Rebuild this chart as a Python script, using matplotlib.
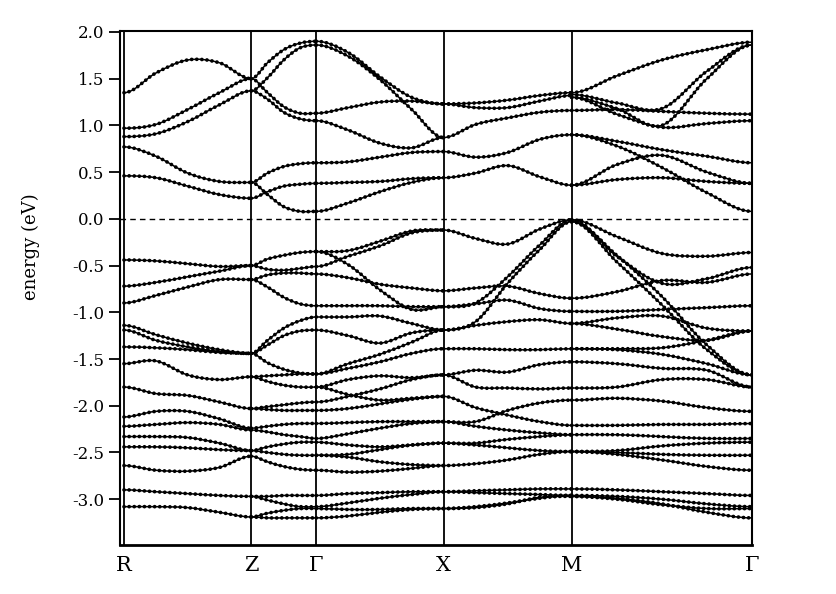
import matplotlib
matplotlib.use("Agg")
import matplotlib.pyplot as plt
from matplotlib.path import Path
from matplotlib.patches import PathPatch

# ---------------- data ----------------
k_labels = ["R", "Z", "Γ", "X", "M", "Γ"]
k_ticks = [0, 127, 192, 319, 447, 627]

# energies (eV) at 0, 1/4, 1/2, 3/4, 1 of each path segment
rz_cb = [
    [1.35, 1.56, 1.70, 1.67, 1.50],
    [0.97, 1.01, 1.17, 1.35, 1.50],
    [0.88, 0.91, 1.04, 1.22, 1.37],
    [0.77, 0.67, 0.49, 0.40, 0.39],
    [0.46, 0.44, 0.35, 0.26, 0.22],
]
rz_vb = [
    [-0.44, -0.45, -0.48, -0.51, -0.50],
    [-0.72, -0.68, -0.62, -0.56, -0.50],
    [-0.90, -0.82, -0.73, -0.65, -0.65],
    [-1.14, -1.24, -1.33, -1.40, -1.44],
    [-1.19, -1.30, -1.37, -1.42, -1.44],
    [-1.37, -1.38, -1.40, -1.43, -1.44],
    [-1.55, -1.52, -1.67, -1.72, -1.69],
    [-1.80, -1.87, -1.89, -1.96, -2.03],
    [-2.12, -2.06, -2.06, -2.14, -2.24],
    [-2.22, -2.20, -2.18, -2.20, -2.26],
    [-2.33, -2.33, -2.34, -2.40, -2.48],
    [-2.44, -2.44, -2.45, -2.47, -2.48],
    [-2.64, -2.69, -2.70, -2.66, -2.54],
    [-2.90, -2.92, -2.94, -2.96, -2.97],
    [-3.08, -3.08, -3.09, -3.14, -3.19],
]
zg_cb = [
    [1.50, 1.67, 1.81, 1.88, 1.90],
    [1.37, 1.51, 1.70, 1.83, 1.86],
    [1.50, 1.35, 1.20, 1.13, 1.13],
    [1.37, 1.28, 1.14, 1.07, 1.05],
    [0.39, 0.49, 0.56, 0.59, 0.60],
    [0.22, 0.29, 0.35, 0.37, 0.38],
    [0.39, 0.26, 0.13, 0.08, 0.08],
]
zg_vb = [
    [-0.50, -0.43, -0.39, -0.36, -0.35],
    [-0.50, -0.54, -0.55, -0.53, -0.51],
    [-0.65, -0.60, -0.58, -0.58, -0.59],
    [-0.65, -0.73, -0.84, -0.91, -0.93],
    [-1.44, -1.30, -1.17, -1.09, -1.05],
    [-1.44, -1.35, -1.25, -1.20, -1.19],
    [-1.44, -1.54, -1.61, -1.65, -1.66],
    [-1.69, -1.68, -1.67, -1.66, -1.66],
    [-1.69, -1.74, -1.78, -1.80, -1.80],
    [-2.03, -2.01, -1.99, -1.97, -1.96],
    [-2.03, -2.04, -2.05, -2.05, -2.05],
    [-2.24, -2.22, -2.20, -2.19, -2.19],
    [-2.26, -2.28, -2.31, -2.33, -2.35],
    [-2.48, -2.44, -2.41, -2.39, -2.39],
    [-2.48, -2.50, -2.52, -2.53, -2.53],
    [-2.54, -2.60, -2.65, -2.68, -2.69],
    [-2.97, -2.97, -2.96, -2.96, -2.96],
    [-2.97, -3.01, -3.05, -3.08, -3.08],
    [-3.19, -3.20, -3.20, -3.20, -3.20],
    [-3.19, -3.15, -3.12, -3.10, -3.10],
]
gx_cb = [
    [1.90, 1.78, 1.52, 1.30, 1.23],
    [1.86, 1.74, 1.49, 1.17, 0.87],
    [1.13, 1.19, 1.25, 1.26, 1.23],
    [1.05, 0.95, 0.81, 0.76, 0.87],
    [0.60, 0.61, 0.66, 0.71, 0.72],
    [0.38, 0.39, 0.40, 0.43, 0.44],
    [0.08, 0.17, 0.29, 0.39, 0.44],
]
gx_vb = [
    [-0.35, -0.34, -0.24, -0.13, -0.12],
    [-0.51, -0.40, -0.29, -0.15, -0.12],
    [-0.35, -0.49, -0.76, -0.97, -0.94],
    [-0.59, -0.63, -0.70, -0.74, -0.77],
    [-0.93, -0.93, -0.93, -0.94, -0.94],
    [-1.05, -1.05, -1.04, -1.12, -1.19],
    [-1.19, -1.25, -1.33, -1.22, -1.19],
    [-1.66, -1.55, -1.45, -1.32, -1.19],
    [-1.66, -1.60, -1.53, -1.44, -1.39],
    [-1.80, -1.72, -1.68, -1.70, -1.67],
    [-1.80, -1.88, -1.94, -1.92, -1.90],
    [-1.96, -1.90, -1.82, -1.72, -1.67],
    [-2.05, -2.03, -1.98, -1.93, -1.90],
    [-2.19, -2.18, -2.17, -2.17, -2.17],
    [-2.35, -2.30, -2.24, -2.19, -2.17],
    [-2.39, -2.42, -2.44, -2.42, -2.40],
    [-2.53, -2.52, -2.47, -2.42, -2.40],
    [-2.53, -2.55, -2.60, -2.63, -2.64],
    [-2.69, -2.71, -2.70, -2.67, -2.64],
    [-2.96, -2.94, -2.93, -2.92, -2.92],
    [-3.08, -3.04, -2.99, -2.95, -2.92],
    [-3.20, -3.18, -3.14, -3.11, -3.10],
    [-3.10, -3.11, -3.11, -3.10, -3.10],
]
xm_cb = [
    [1.23, 1.24, 1.27, 1.32, 1.35],
    [1.23, 1.19, 1.19, 1.26, 1.32],
    [0.87, 1.01, 1.08, 1.14, 1.16],
    [0.72, 0.66, 0.71, 0.85, 0.90],
    [0.44, 0.49, 0.57, 0.45, 0.36],
]
xm_vb = [
    [-0.12, -0.21, -0.27, -0.11, -0.01],
    [-0.94, -0.90, -0.62, -0.28, -0.01],
    [-1.19, -1.10, -0.69, -0.33, -0.03],
    [-0.77, -0.74, -0.72, -0.80, -0.85],
    [-0.94, -0.91, -0.87, -0.96, -0.99],
    [-1.19, -1.14, -1.10, -1.08, -1.12],
    [-1.39, -1.39, -1.40, -1.40, -1.39],
    [-1.67, -1.62, -1.64, -1.56, -1.53],
    [-1.67, -1.80, -1.81, -1.82, -1.81],
    [-1.90, -2.02, -2.10, -2.17, -2.21],
    [-2.17, -2.17, -2.05, -1.97, -1.94],
    [-2.17, -2.22, -2.26, -2.29, -2.31],
    [-2.40, -2.40, -2.36, -2.33, -2.31],
    [-2.40, -2.42, -2.45, -2.48, -2.49],
    [-2.64, -2.62, -2.58, -2.52, -2.49],
    [-2.92, -2.91, -2.90, -2.89, -2.89],
    [-2.92, -2.93, -2.94, -2.95, -2.96],
    [-3.10, -3.08, -3.04, -2.99, -2.96],
    [-3.10, -3.09, -3.05, -2.98, -2.97],
]
mg_cb = [
    [1.35, 1.53, 1.70, 1.81, 1.89],
    [1.33, 1.24, 1.18, 1.58, 1.86],
    [1.30, 1.18, 1.00, 1.50, 1.86],
    [1.16, 1.17, 1.15, 1.13, 1.12],
    [1.30, 1.12, 0.98, 1.02, 1.05],
    [0.90, 0.83, 0.74, 0.67, 0.60],
    [0.90, 0.78, 0.55, 0.28, 0.08],
    [0.36, 0.58, 0.68, 0.50, 0.38],
    [0.36, 0.42, 0.44, 0.40, 0.38],
]
mg_vb = [
    [-0.01, -0.19, -0.37, -0.40, -0.36],
    [-0.01, -0.40, -0.69, -0.64, -0.52],
    [-0.03, -0.39, -0.83, -1.35, -1.67],
    [-0.03, -0.46, -0.92, -1.40, -1.67],
    [-0.85, -0.78, -0.66, -0.68, -0.59],
    [-0.99, -0.99, -0.97, -0.95, -0.93],
    [-1.12, -1.06, -1.04, -1.17, -1.20],
    [-1.12, -1.18, -1.26, -1.30, -1.20],
    [-1.39, -1.39, -1.38, -1.30, -1.20],
    [-1.39, -1.40, -1.45, -1.55, -1.67],
    [-1.53, -1.55, -1.60, -1.62, -1.80],
    [-1.81, -1.80, -1.72, -1.72, -1.80],
    [-1.94, -1.92, -1.95, -2.02, -2.06],
    [-2.21, -2.21, -2.20, -2.20, -2.19],
    [-2.31, -2.31, -2.33, -2.35, -2.35],
    [-2.49, -2.48, -2.43, -2.40, -2.39],
    [-2.49, -2.50, -2.52, -2.53, -2.53],
    [-2.49, -2.52, -2.58, -2.65, -2.69],
    [-2.89, -2.90, -2.92, -2.94, -2.96],
    [-2.96, -2.97, -3.00, -3.05, -3.08],
    [-2.97, -2.99, -3.05, -3.14, -3.20],
    [-2.97, -3.00, -3.06, -3.10, -3.10],
]

segments = [
    (0, rz_cb + rz_vb),
    (1, zg_cb + zg_vb),
    (2, gx_cb + gx_vb),
    (3, xm_cb + xm_vb),
    (4, mg_cb + mg_vb),
]

y_ticks = [2.0, 1.5, 1.0, 0.5, 0.0, -0.5, -1.0, -1.5, -2.0, -2.5, -3.0]


def smooth_path(xs, ys):
    """Cubic Bezier path through the knots (flat at high-symmetry points)."""
    n = len(xs)
    slopes = []
    for i in range(n):
        if i == 0 or i == n - 1:
            slopes.append(0.0)
        else:
            slopes.append((ys[i + 1] - ys[i - 1]) / (xs[i + 1] - xs[i - 1]))
    verts = [(xs[0], ys[0])]
    codes = [Path.MOVETO]
    for i in range(n - 1):
        h = xs[i + 1] - xs[i]
        verts.append((xs[i] + h / 3, ys[i] + slopes[i] * h / 3))
        verts.append((xs[i + 1] - h / 3, ys[i + 1] - slopes[i + 1] * h / 3))
        verts.append((xs[i + 1], ys[i + 1]))
        codes += [Path.CURVE4] * 3
    return Path(verts, codes)


# ---------------- figure ----------------
fig = plt.figure(figsize=(8.37, 5.94), dpi=100)
ax = fig.add_axes([0.1428, 0.0825, 0.7556, 0.8653])

for seg_i, bands in segments:
    k0, k1 = k_ticks[seg_i], k_ticks[seg_i + 1]
    nk = len(bands[0])
    ks = [k0 + (k1 - k0) * j / (nk - 1) for j in range(nk)]
    for band in bands:
        p = smooth_path(ks, band)
        ax.add_patch(PathPatch(p, fill=False, ec="black", lw=1.1, zorder=3))
        ax.add_patch(PathPatch(p, fill=False, ec="black", lw=2.7,
                               linestyle=(0, (0.01, 1.35)), capstyle="round",
                               zorder=3))

for k in k_ticks:
    ax.axvline(k, color="black", lw=1.3, zorder=2)
ax.axhline(0.0, color="black", lw=1.0, ls=(0, (4, 3)), zorder=2)

ax.set_xlim(-4.5, k_ticks[-1])
ax.set_ylim(-3.49, 2.01)

serif = ["DejaVu Serif"]
ax.set_xticks(k_ticks)
ax.set_xticklabels(k_labels, family=serif, fontsize=15)
ax.tick_params(axis="x", length=0, pad=8)
ax.set_yticks(y_ticks)
ax.set_yticklabels([f"{v:.1f}" for v in y_ticks], family=serif, fontsize=12)
ax.tick_params(axis="y", direction="out", length=8, width=1.3, pad=3)
ax.set_ylabel("energy (eV)", family=serif, fontsize=13)
ax.yaxis.set_label_coords(-0.125, 0.58)

for side in ["left", "right", "top"]:
    ax.spines[side].set_linewidth(1.5)
ax.spines["bottom"].set_linewidth(2.0)

fig.savefig("out.png", dpi=100)
